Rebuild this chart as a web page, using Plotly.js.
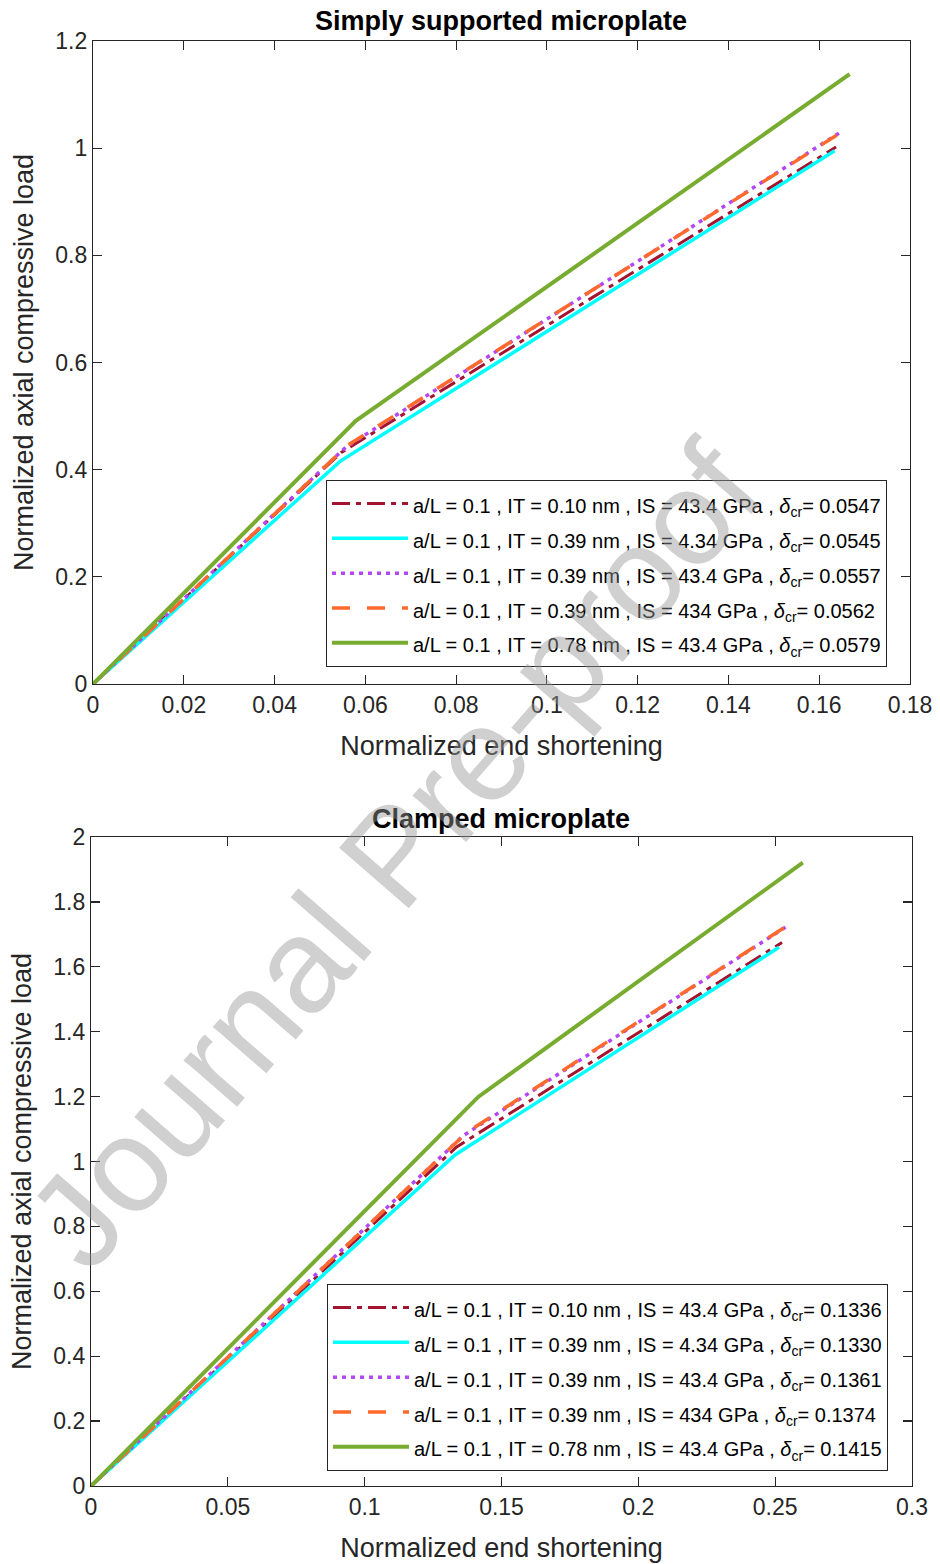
<!DOCTYPE html>
<html>
<head>
<meta charset="utf-8">
<script src="https://cdn.plot.ly/plotly-3.0.1.min.js"></script>
<style>html,body{margin:0;padding:0;background:#fff;}#chart{width:940px;height:1564px;}</style>
</head>
<body>
<div id="chart"></div>
<script>
// ---- Data ----
const seriesNames = [
  "a/L = 0.1 , IT = 0.10 nm , IS = 43.4 GPa , <i>δ</i><sub>cr</sub>= ",
  "a/L = 0.1 , IT = 0.39 nm , IS = 4.34 GPa , <i>δ</i><sub>cr</sub>= ",
  "a/L = 0.1 , IT = 0.39 nm , IS = 43.4 GPa , <i>δ</i><sub>cr</sub>= ",
  "a/L = 0.1 , IT = 0.39 nm , IS = 434 GPa , <i>δ</i><sub>cr</sub>= ",
  "a/L = 0.1 , IT = 0.78 nm , IS = 43.4 GPa , <i>δ</i><sub>cr</sub>= "
];
const deltaCrSS = ["0.0547", "0.0545", "0.0557", "0.0562", "0.0579"];
const deltaCrCC = ["0.1336", "0.1330", "0.1361", "0.1374", "0.1415"];

// Simply supported: end shortening (x) and load (y)
const ssX1 = [0, 0.0547, 0.1637];  const ssY1 = [0, 0.432, 1.002];
const ssX2 = [0, 0.0545, 0.1634];  const ssY2 = [0, 0.416, 0.995];
const ssX3 = [0, 0.0557, 0.1649];  const ssY3 = [0, 0.442, 1.031];
const ssX4 = [0, 0.0562, 0.1640];  const ssY4 = [0, 0.446, 1.025];
const ssX5 = [0, 0.0579, 0.1667];  const ssY5 = [0, 0.491, 1.138];

// Clamped
const ccX1 = [0, 0.1336, 0.2525];  const ccY1 = [0, 1.045, 1.675];
const ccX2 = [0, 0.1330, 0.2514];  const ccY2 = [0, 1.020, 1.660];
const ccX3 = [0, 0.1361, 0.2543];  const ccY3 = [0, 1.080, 1.725];
const ccX4 = [0, 0.1374, 0.2535];  const ccY4 = [0, 1.090, 1.722];
const ccX5 = [0, 0.1415, 0.2601];  const ccY5 = [0, 1.199, 1.921];

const topXTicks = [0, 0.02, 0.04, 0.06, 0.08, 0.1, 0.12, 0.14, 0.16, 0.18];
const topYTicks = [0, 0.2, 0.4, 0.6, 0.8, 1, 1.2];
const botXTicks = [0, 0.05, 0.1, 0.15, 0.2, 0.25, 0.3];
const botYTicks = [0, 0.2, 0.4, 0.6, 0.8, 1, 1.2, 1.4, 1.6, 1.8, 2];

const watermarkWords = ["Journal", "Pre-proof"];

// ---- Styles ----
const styles = [
  {color: "#A2142F", width: 3, dash: "18px,6px,5px,6px"},
  {color: "#00FFFF", width: 3.5, dash: "solid"},
  {color: "#B446F5", width: 3.5, dash: "4px,5px"},
  {color: "#FF6A2C", width: 3.5, dash: "18px,17px"},
  {color: "#77AC30", width: 4, dash: "solid"}
];

const ssXs = [ssX1, ssX2, ssX3, ssX4, ssX5];
const ssYs = [ssY1, ssY2, ssY3, ssY4, ssY5];
const ccXs = [ccX1, ccX2, ccX3, ccX4, ccX5];
const ccYs = [ccY1, ccY2, ccY3, ccY4, ccY5];

function legendText(s) { return '<span style="font-size:20px">' + s + '</span>'; }

const traces = [];
for (let i = 0; i < 5; i++) {
  traces.push({
    x: ssXs[i], y: ssYs[i], type: "scatter", mode: "lines",
    name: legendText(seriesNames[i] + deltaCrSS[i]),
    line: styles[i], xaxis: "x", yaxis: "y", legend: "legend"
  });
}
for (let i = 0; i < 5; i++) {
  traces.push({
    x: ccXs[i], y: ccYs[i], type: "scatter", mode: "lines",
    name: legendText(seriesNames[i] + deltaCrCC[i]),
    line: styles[i], xaxis: "x2", yaxis: "y2", legend: "legend2"
  });
}

const W = 940, H = 1564;
const FAM = "Liberation Sans, Arial, sans-serif";
const INK = "#262626";
function axisBase(extra) {
  return Object.assign({
    showline: true, linecolor: INK, linewidth: 1.2, mirror: "ticks",
    ticks: "inside", ticklen: 9, tickwidth: 1.2, tickcolor: INK,
    showgrid: false, zeroline: false, automargin: false,
    tickfont: {family: FAM, size: 23, color: INK},
    tickmode: "array"
  }, extra);
}
const titleFont = {family: FAM, size: 27, color: INK};
const legendBase = {
  bgcolor: "#ffffff", bordercolor: INK, borderwidth: 1,
  font: {family: FAM, size: 24.5, color: "#000"},
  xref: "paper", yref: "paper", xanchor: "left", yanchor: "top",
  itemwidth: 76, tracegroupgap: 0
};

// watermark placement along a -49 degree diagonal
const wmAngle = 49 * Math.PI / 180;
const wmCenters = [[198, 1080], [549, 675]];
const wmAnn = watermarkWords.map((w, i) => ({
  text: w, xref: "paper", yref: "paper",
  x: wmCenters[i][0] / W, y: 1 - wmCenters[i][1] / H,
  xanchor: "center", yanchor: "middle",
  showarrow: false, textangle: -49,
  font: {family: FAM, size: 134, color: "rgba(150,150,150,0.45)"}
}));

const layout = {
  width: W, height: H,
  margin: {l: 0, r: 0, t: 0, b: 0},
  paper_bgcolor: "#ffffff", plot_bgcolor: "#ffffff",
  font: {family: FAM, size: 20, color: INK},
  showlegend: true,
  title: {
    text: "<b>Simply supported microplate</b>",
    font: {family: FAM, size: 27, color: "#000"},
    x: 501 / W, xanchor: "center", y: 1 - 21 / H, yanchor: "middle",
    xref: "paper", yref: "container"
  },
  xaxis: axisBase({
    domain: [93 / W, 910 / W], range: [0, 0.18], anchor: "y",
    tickvals: topXTicks,
    title: {text: "Normalized end shortening", font: titleFont, standoff: 19}
  }),
  yaxis: axisBase({
    domain: [1 - 684 / H, 1 - 41 / H], range: [0, 1.2], anchor: "x",
    tickvals: topYTicks,
    title: {text: "Normalized axial compressive load", font: titleFont, standoff: 13}
  }),
  xaxis2: axisBase({
    domain: [91 / W, 912 / W], range: [0, 0.3], anchor: "y2",
    tickvals: botXTicks,
    title: {text: "Normalized end shortening", font: titleFont, standoff: 19}
  }),
  yaxis2: axisBase({
    domain: [1 - 1486 / H, 1 - 837 / H], range: [0, 2], anchor: "x2",
    tickvals: botYTicks,
    title: {text: "Normalized axial compressive load", font: titleFont, standoff: 13}
  }),
  legend: Object.assign({}, legendBase, {x: 326 / W, y: 1 - 480 / H}),
  legend2: Object.assign({}, legendBase, {x: 327 / W, y: 1 - 1284 / H}),
  annotations: [
    {
      text: "<b>Clamped microplate</b>", xref: "paper", yref: "paper",
      x: 501 / W, y: 1 - 819 / H, xanchor: "center", yanchor: "middle",
      showarrow: false, font: {family: FAM, size: 27, color: "#000"}
    }
  ].concat(wmAnn)
};

Plotly.newPlot("chart", traces, layout, {staticPlot: true, displayModeBar: false});
</script>
</body>
</html>
